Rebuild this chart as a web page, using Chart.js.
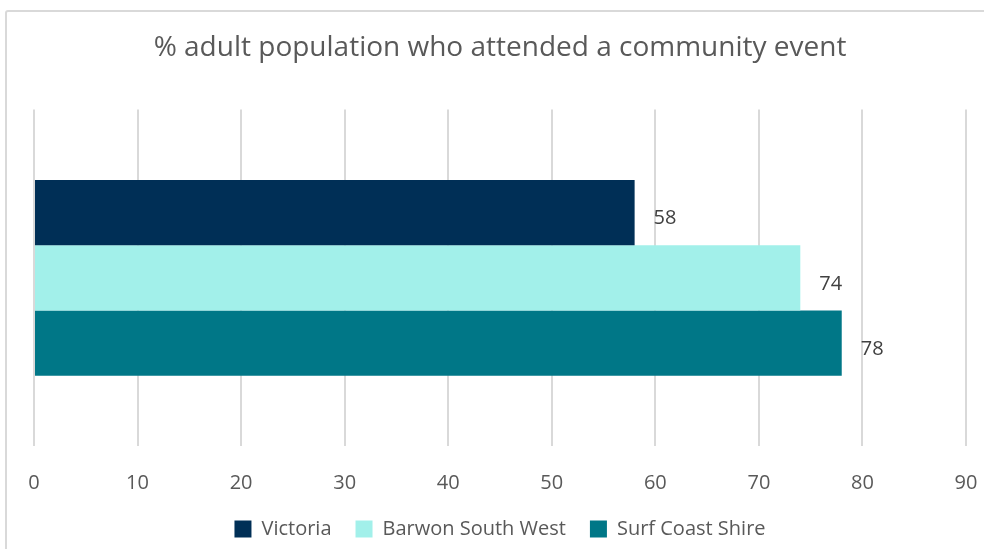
<!DOCTYPE html>
<html>
<head>
<meta charset="utf-8">
<script src="https://cdn.jsdelivr.net/npm/chart.js@4.4.1/dist/chart.umd.min.js"></script>
<style>
  html, body { margin: 0; padding: 0; background: #fff; overflow: hidden; }
  #wrap { position: relative; width: 984px; height: 549px; }
  #frame { position: absolute; left: 5px; top: 10px; width: 1000px; height: 600px; border: 2px solid #d9d9d9; border-radius: 3px; box-sizing: border-box; }
  canvas { position: absolute; left: 0; top: 0; }
</style>
</head>
<body>
<div id="wrap">
  <div id="frame"></div>
  <canvas id="c" width="984" height="549"></canvas>
</div>
<script>
const categories = [''];
const seriesNames = ['Victoria', 'Barwon South West', 'Surf Coast Shire'];
const victoria = [58];
const barwonSouthWest = [74];
const surfCoastShire = [78];
const xTicks = [0, 10, 20, 30, 40, 50, 60, 70, 80, 90];
const colors = ['#002f56', '#a2f0ea', '#007787'];

const FONT = '"Open Sans", Lato, sans-serif';

const valueLabels = {
  id: 'valueLabels',
  afterDatasetsDraw(chart) {
    const ctx = chart.ctx;
    ctx.save();
    ctx.font = '20px ' + FONT;
    ctx.fillStyle = '#404040';
    ctx.textAlign = 'left';
    ctx.textBaseline = 'middle';
    chart.data.datasets.forEach((ds, i) => {
      const meta = chart.getDatasetMeta(i);
      meta.data.forEach((el, j) => {
        ctx.fillText(String(ds.data[j]), el.x + 19, el.y + 6);
      });
    });
    ctx.restore();
  }
};

new Chart(document.getElementById('c'), {
  type: 'bar',
  data: {
    labels: categories,
    datasets: [
      { label: seriesNames[0], data: victoria, backgroundColor: colors[0] },
      { label: seriesNames[1], data: barwonSouthWest, backgroundColor: colors[1] },
      { label: seriesNames[2], data: surfCoastShire, backgroundColor: colors[2] }
    ]
  },
  options: {
    indexAxis: 'y',
    responsive: false,
    animation: false,
    layout: { padding: { top: 21, left: 34, right: 18, bottom: 0 } },
    datasets: { bar: { categoryPercentage: 0.582, barPercentage: 1.0 } },
    scales: {
      x: {
        min: 0, max: 90,
        afterBuildTicks(scale) { scale.ticks = xTicks.map(v => ({ value: v })); },
        afterFit(scale) { scale.height = 49; scale.paddingLeft = 0; scale.paddingRight = 0; },
        grid: { color: '#d9d9d9', lineWidth: 2, drawTicks: false },
        border: { display: false },
        ticks: { color: '#595959', font: { family: FONT, size: 20 }, padding: 25 }
      },
      y: { display: false }
    },
    plugins: {
      title: {
        display: true,
        text: '% adult population who attended a community event',
        color: '#595959',
        font: { family: FONT, size: 28, weight: 'normal' },
        padding: { top: 10, bottom: 45 }
      },
      legend: {
        position: 'bottom',
        labels: {
          color: '#595959',
          font: { family: FONT, size: 20 },
          boxWidth: 17, boxHeight: 17,
          padding: 24
        }
      },
      tooltip: { enabled: false }
    }
  },
  plugins: [valueLabels]
});
</script>
</body>
</html>
